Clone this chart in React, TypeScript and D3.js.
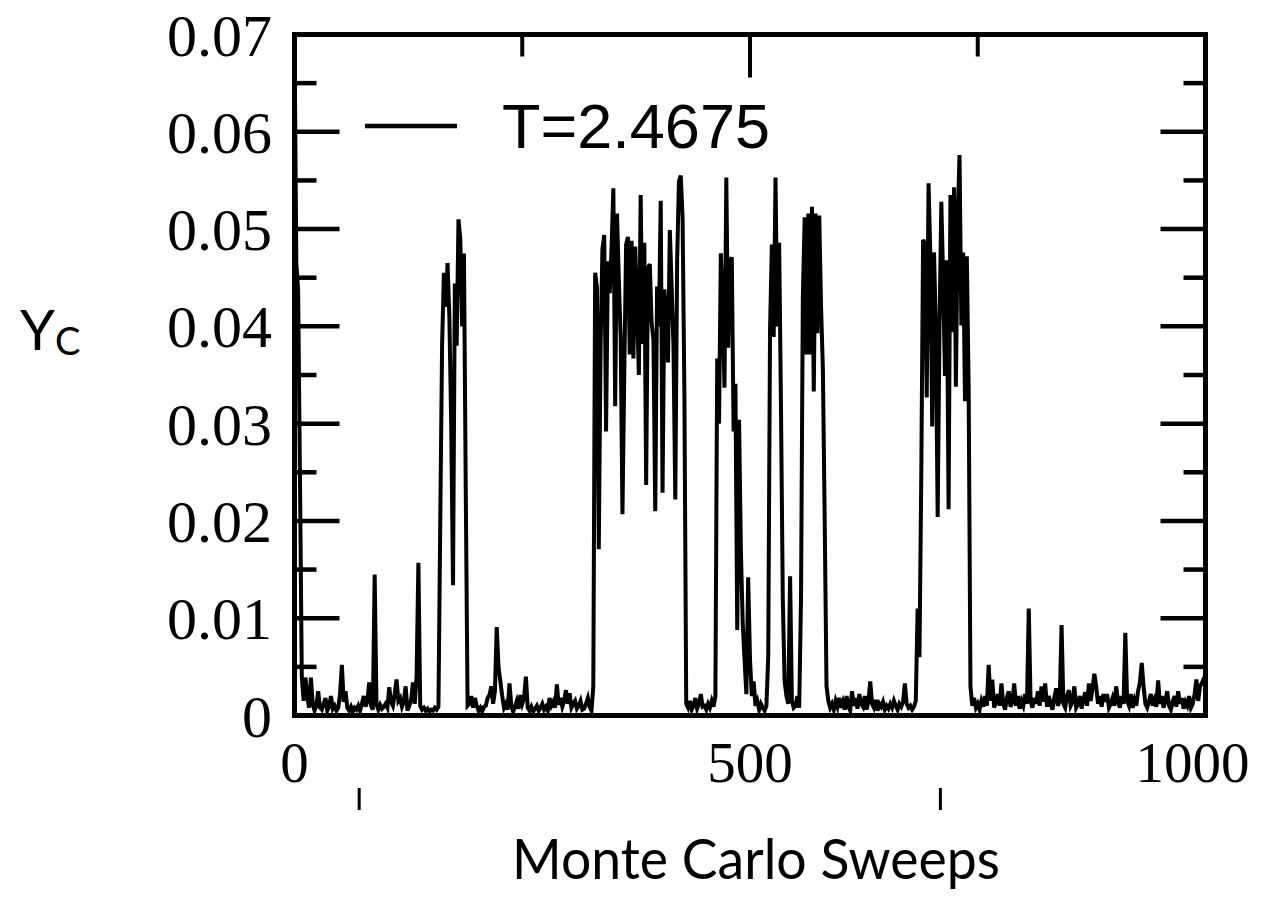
import React from 'react';
import * as d3 from 'd3';

// Yc per Monte Carlo sweep, every 2 sweeps, in units of 1e-4
const sweepStep = 2;
const ycRows = [
  [700, 465, 437, 245, 40, 15, 39, 20, 8, 39, 12, 5, 10, 25, 8, 6, 12, 18, 5, 9, 20, 7, 10, 5, 8],
  [22, 52, 14, 25, 8, 5, 9, 4, 8, 6, 10, 5, 12, 20, 9, 15, 34, 10, 6, 145, 12, 6, 11, 7, 9],
  [12, 8, 29, 14, 10, 22, 37, 15, 18, 9, 14, 30, 5, 10, 16, 34, 12, 40, 157, 10, 6, 8, 5, 7, 4],
  [6, 5, 8, 6, 9, 200, 380, 455, 420, 465, 410, 300, 134, 444, 380, 510, 490, 400, 475, 230, 10, 12, 20, 8, 18],
  [10, 5, 8, 4, 9, 10, 18, 21, 30, 12, 25, 91, 49, 35, 20, 8, 12, 6, 33, 10, 4, 9, 15, 7, 21],
  [12, 18, 40, 8, 5, 9, 4, 7, 10, 5, 8, 12, 6, 9, 5, 18, 10, 14, 8, 32, 11, 18, 9, 15, 26],
  [12, 23, 8, 12, 15, 7, 10, 15, 6, 7, 12, 18, 9, 5, 30, 455, 440, 171, 380, 479, 494, 292, 467, 434, 480],
  [542, 318, 516, 449, 390, 207, 352, 484, 492, 371, 488, 367, 482, 420, 350, 535, 382, 486, 237, 460, 464, 404, 386, 210, 441],
  [400, 529, 229, 438, 410, 363, 499, 441, 380, 222, 467, 549, 555, 512, 330, 12, 8, 15, 6, 10, 18, 7, 12, 22, 9],
  [10, 6, 12, 8, 15, 9, 20, 367, 300, 475, 420, 337, 553, 378, 467, 471, 292, 341, 88, 304, 170, 95, 58, 22, 142],
  [58, 20, 35, 10, 15, 6, 12, 8, 5, 10, 60, 397, 484, 389, 553, 400, 486, 318, 120, 35, 20, 12, 143, 15, 8],
  [10, 20, 8, 120, 430, 512, 371, 516, 371, 523, 333, 516, 393, 514, 420, 356, 200, 30, 15, 8, 12, 6, 15, 9, 18],
  [8, 14, 6, 20, 9, 5, 25, 10, 18, 7, 22, 12, 9, 20, 6, 15, 35, 12, 8, 16, 5, 12, 9, 14, 6],
  [10, 7, 12, 8, 15, 10, 6, 12, 9, 14, 33, 12, 8, 10, 6, 9, 15, 110, 60, 245, 489, 485, 327, 547, 472],
  [297, 476, 398, 204, 398, 528, 450, 349, 468, 212, 535, 394, 543, 338, 509, 576, 401, 476, 323, 472, 338, 30, 10, 18, 8],
  [12, 6, 15, 9, 20, 10, 52, 15, 37, 8, 14, 22, 10, 33, 12, 6, 18, 25, 9, 14, 33, 10, 20, 7, 15],
  [10, 22, 12, 110, 15, 8, 18, 12, 25, 10, 30, 14, 33, 9, 20, 12, 6, 18, 28, 10, 15, 93, 12, 8, 20],
  [26, 10, 14, 30, 8, 12, 20, 7, 16, 24, 10, 33, 15, 28, 43, 30, 12, 20, 9, 22, 14, 22, 8, 12, 18],
  [10, 30, 14, 8, 20, 12, 85, 15, 10, 22, 8, 16, 10, 25, 34, 54, 30, 12, 8, 15, 22, 10, 16, 9, 36],
  [12, 20, 8, 15, 25, 10, 6, 14, 20, 9, 25, 12, 18, 7, 14, 10, 20, 8, 12, 22, 37, 15, 30, 33, 38],
  [40],
];

const xTicks = [0, 500, 1000];
const xTickLabels = ['0', '500', '1000'];
const xMinorTicks = [250, 750];
const yTicks = [0, 0.01, 0.02, 0.03, 0.04, 0.05, 0.06, 0.07];
const yTickLabels = ['0', '0.01', '0.02', '0.03', '0.04', '0.05', '0.06', '0.07'];
const yMinorTicks = [0.005, 0.015, 0.025, 0.035, 0.045, 0.055, 0.065];
// two loose tick marks sitting under the axis in the original figure
const strayTicks = [71, 709];
const legendLabel = 'T=2.4675';

const W = 1276;
const H = 903;
const margin = { top: 34.5, right: 70.5, bottom: 187.5, left: 294.5 };

export default function App() {
  const x = d3.scaleLinear().domain([0, 1000]).range([margin.left, W - margin.right]);
  const y = d3.scaleLinear().domain([0, 0.07]).range([H - margin.bottom, margin.top]);

  const yc = ycRows.flat().map((v) => v / 1e4);
  const points = yc.map((v, i) => [i * sweepStep, v] as [number, number]);
  const line = d3.line<[number, number]>()
    .x((d) => x(d[0]))
    .y((d) => y(d[1]));

  const x0 = x(0);
  const x1 = x(1000);
  const yTop = y(0.07);
  const yBot = y(0);
  const major = 45;
  const minor = 22;
  const serif = '"Liberation Serif", "Times New Roman", serif';

  return (
    <svg width={W} height={H} style={{ position: 'absolute', left: 0, top: 0, background: '#fff' }}>
      {/* frame */}
      <rect x={x0} y={yTop} width={x1 - x0} height={yBot - yTop} fill="none" stroke="#000" strokeWidth={5} />

      {/* y ticks, both sides */}
      <g stroke="#000" strokeWidth={4.5}>
        {yTicks.map((t) => (
          <g key={'yt' + t}>
            <line x1={x0} x2={x0 + major} y1={y(t)} y2={y(t)} />
            <line x1={x1} x2={x1 - major} y1={y(t)} y2={y(t)} />
          </g>
        ))}
        {yMinorTicks.map((t) => (
          <g key={'ym' + t}>
            <line x1={x0} x2={x0 + minor} y1={y(t)} y2={y(t)} />
            <line x1={x1} x2={x1 - minor} y1={y(t)} y2={y(t)} />
          </g>
        ))}
      </g>

      {/* top ticks */}
      <g stroke="#000" strokeWidth={4}>
        {xTicks.slice(1, -1).map((t) => (
          <line key={'xt' + t} x1={x(t)} x2={x(t)} y1={yTop} y2={yTop + major - 2} />
        ))}
        {xMinorTicks.map((t) => (
          <line key={'xm' + t} x1={x(t)} x2={x(t)} y1={yTop} y2={yTop + minor} />
        ))}
        {strayTicks.map((t) => (
          <line key={'st' + t} x1={x(t)} x2={x(t)} y1={788} y2={810} strokeWidth={3} />
        ))}
      </g>

      {/* data */}
      <path d={line(points) || ''} fill="none" stroke="#000" strokeWidth={4} strokeLinejoin="miter" />

      {/* tick labels */}
      <g fontFamily={serif} fill="#000">
        {yTicks.map((t, i) => (
          <text key={'yl' + t} x={272} y={y(t) + 21} textAnchor="end" fontSize={60}>{yTickLabels[i]}</text>
        ))}
        {xTicks.map((t, i) => (
          <text key={'xl' + t} x={x(t) + (i === xTicks.length - 1 ? -13 : 0)} y={782} textAnchor="middle" fontSize={57}>
            {xTickLabels[i]}
          </text>
        ))}
      </g>

      {/* legend */}
      <line x1={365} x2={457} y1={126} y2={126} stroke="#000" strokeWidth={4.5} />
      <text x={502} y={148} fontFamily='"Liberation Sans", Arial, sans-serif' fontSize={63} fill="#000">
        {legendLabel}
      </text>

      {/* axis titles */}
      <text x={20} y={350} fontFamily="Lato, sans-serif" fontSize={56} fill="#000">
        Y<tspan fontSize={38} dy={5}>C</tspan>
      </text>
      <text x={512} y={879} fontFamily="Lato, sans-serif" fontSize={56} fill="#000" textLength={488} lengthAdjust="spacingAndGlyphs">
        Monte Carlo Sweeps
      </text>
    </svg>
  );
}
